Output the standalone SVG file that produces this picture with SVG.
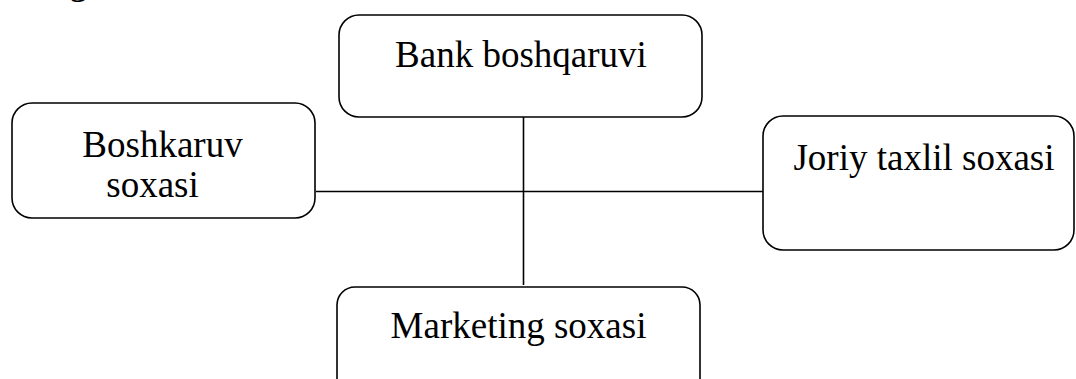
<svg xmlns="http://www.w3.org/2000/svg" width="1076" height="379" viewBox="0 0 1076 379">
<style>
.box{fill:#fff;stroke:#000;stroke-width:1.6}
.lbl{font-family:"Liberation Serif","Times New Roman",serif;font-size:37px;fill:#000}
.con{stroke:#000;stroke-width:1.6;fill:none}
</style>
<rect width="1076" height="379" fill="#fff"/>
<text class="lbl" x="69" y="-6">g</text>
<g id="connectors">
<line class="con" x1="523.5" y1="117" x2="523.5" y2="285"/>
<line class="con" x1="316" y1="191.5" x2="763" y2="191.5"/>
</g>
<g id="node-bank">
<rect class="box" x="339" y="15" width="363" height="102" rx="20"/>
<text class="lbl" x="521" y="67" text-anchor="middle">Bank boshqaruvi</text>
</g>
<g id="node-boshkaruv">
<rect class="box" x="12" y="103" width="303" height="115" rx="20"/>
<text class="lbl" x="162.5" y="157" text-anchor="middle">Boshkaruv</text>
<text class="lbl" x="152.5" y="197" text-anchor="middle">soxasi</text>
</g>
<g id="node-joriy">
<rect class="box" x="763" y="116" width="311" height="134" rx="20"/>
<text class="lbl" x="924" y="170" text-anchor="middle">Joriy taxlil soxasi</text>
</g>
<g id="node-marketing">
<rect class="box" x="337" y="287" width="363" height="120" rx="18"/>
<text class="lbl" x="518.5" y="338" text-anchor="middle">Marketing soxasi</text>
</g>
</svg>
